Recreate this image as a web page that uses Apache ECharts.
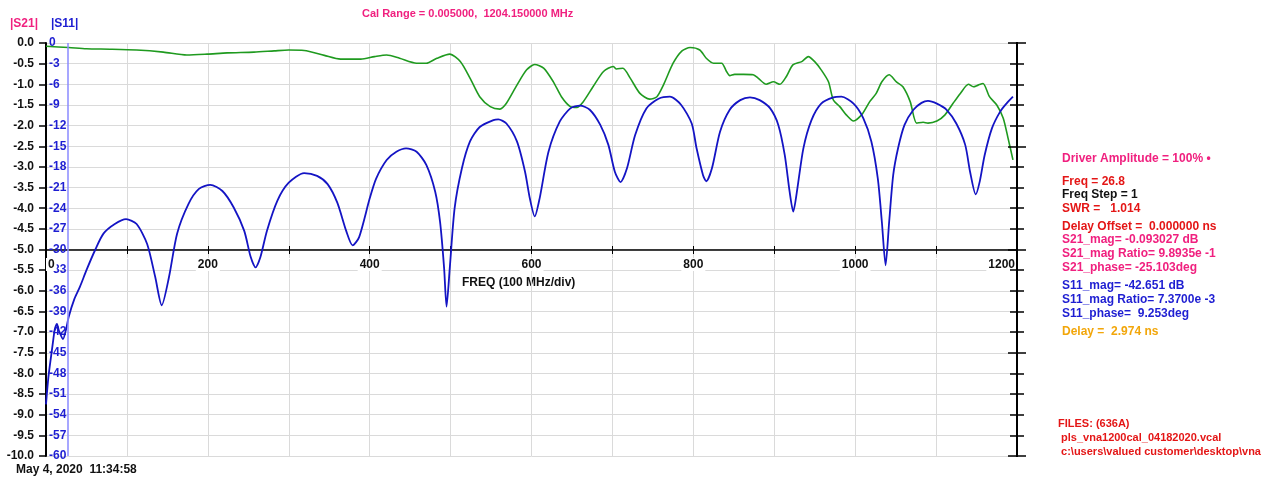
<!DOCTYPE html>
<html>
<head>
<meta charset="utf-8">
<script src="https://cdn.jsdelivr.net/npm/echarts@6/dist/echarts.min.js"></script>
<style>
html,body{margin:0;padding:0;background:#fff;}
#chart{width:1266px;height:481px;}
</style>
</head>
<body>
<div id="chart"></div>
<script>
// ---- data ----
const freqS21 = [0,28,50,79,112,145,174,199,224,257,282,300,319,344,364,389,406,421,437,458,470,483,499,512,524,536,549,561,569,582,594,604,615,627,637,648,656,664,676,689,701,705,713,722,734,746,755,763,775,786,796,808,816,825,835,841,845,851,862,874,880,890,899,907,915,923,934,942,950,958,967,973,981,989,998,1008,1018,1026,1033,1042,1051,1059,1068,1076,1084,1090,1101,1111,1121,1130,1140,1146,1152,1158,1166,1175,1183,1189,1195];
const s21Mag = [-0.08,-0.11,-0.14,-0.15,-0.17,-0.22,-0.29,-0.27,-0.24,-0.22,-0.19,-0.17,-0.18,-0.30,-0.39,-0.39,-0.33,-0.29,-0.37,-0.49,-0.49,-0.37,-0.27,-0.45,-0.85,-1.30,-1.54,-1.60,-1.46,-1.02,-0.65,-0.52,-0.61,-0.94,-1.30,-1.54,-1.56,-1.42,-1.06,-0.69,-0.57,-0.63,-0.61,-0.85,-1.22,-1.36,-1.30,-1.02,-0.49,-0.19,-0.11,-0.17,-0.37,-0.49,-0.49,-0.69,-0.79,-0.76,-0.76,-0.77,-0.85,-1.00,-0.94,-1.00,-0.81,-0.53,-0.45,-0.33,-0.45,-0.65,-0.94,-1.38,-1.54,-1.74,-1.89,-1.74,-1.42,-1.22,-0.94,-0.77,-0.94,-1.06,-1.42,-1.94,-1.92,-1.94,-1.89,-1.74,-1.46,-1.22,-1.00,-1.06,-1.02,-0.98,-1.30,-1.50,-1.82,-2.31,-2.83];

const freqS11 = [0,3,8,11,13.5,16,21,25,28,35,42,50,61,71,85,99,112,125,135,143,152,162,176,189,203,218,232,245,253,259,265,273,286,300,319,335,348,360,371,379,387,400,408,421,433,445,458,470,481,487,492,495,499,505,514,524,536,553,559,569,582,592,598,604,610,621,635,648,660,672,685,695,703,710,718,728,742,757,771,785,798,804,812,816,823,833,845,858,870,882,895,905,913,919,923.5,928,936,946,958,973,983,998,1010,1020,1028,1033,1037.6,1042,1047,1053,1061,1072,1082,1090,1101,1113,1125,1136,1142,1149,1154,1160,1169,1179,1187,1195];
const s11Mag = [-52.5,-48.5,-44,-41.5,-40.8,-41.8,-43,-41.5,-39.8,-37.2,-35.4,-33,-30,-27.7,-26.3,-25.6,-26.3,-29.2,-34,-38.1,-34,-27.7,-23.4,-21.2,-20.6,-21.5,-23.9,-27.3,-31.1,-32.6,-31.1,-27.3,-22.9,-20.3,-18.9,-19.3,-20.5,-23.2,-27.3,-29.4,-28.2,-22.6,-19.7,-17.0,-15.8,-15.3,-15.8,-17.7,-21.6,-26,-32.7,-38.3,-32.7,-24,-18.2,-14.3,-12.2,-11.2,-11.1,-11.7,-14.3,-18.7,-22.6,-25.2,-22.6,-15.8,-11.4,-9.5,-9.1,-9.7,-11.9,-14.8,-18.7,-20.2,-18.2,-13.4,-9.5,-8.1,-7.8,-9.0,-11.7,-15.3,-19.2,-20.1,-18.2,-12.9,-9.7,-8.3,-7.9,-8.3,-9.5,-11.9,-16.3,-21.6,-24.5,-21.6,-15.3,-11.2,-8.8,-7.9,-7.8,-8.8,-10.9,-14.3,-19.7,-26,-32.3,-26,-19.2,-15.3,-11.9,-9.7,-8.7,-8.4,-8.8,-9.7,-11.7,-14.8,-18.7,-22.0,-20.1,-16.3,-12.4,-10,-8.8,-7.8];

const cursorFreq = 26.8;
const xLabelStep = 200;

const titleText = 'Cal Range = 0.005000,  1204.150000 MHz';
const dateText = 'May 4, 2020  11:34:58';
const panelLines = [
  ['Driver Amplitude = 100% \u2022', 'pink'],
  ['Freq = 26.8', 'red'],
  ['Freq Step = 1', 'black'],
  ['SWR =   1.014', 'red'],
  ['Delay Offset =  0.000000 ns', 'red'],
  ['S21_mag= -0.093027 dB', 'pink'],
  ['S21_mag Ratio= 9.8935e -1', 'pink'],
  ['S21_phase= -25.103deg', 'pink'],
  ['S11_mag= -42.651 dB', 'blue'],
  ['S11_mag Ratio= 7.3700e -3', 'blue'],
  ['S11_phase=  9.253deg', 'blue'],
  ['Delay =  2.974 ns', 'orange']
];
const fileLines = ['FILES: (636A)', ' pls_vna1200cal_04182020.vcal', ' c:\\users\\valued customer\\desktop\\vna'];

// ---- styling ----
const COL = {pink:'#f0207f', red:'#e41616', black:'#111111', blue:'#1e1ed2', orange:'#f2a60a'};
const panelY = [160,183,196,210,228,241,255,269,287,301,315,333];
const fileY = [425,439,453];
const FONT = 'bold 12px "Liberation Sans", Arial, sans-serif';
const MID_OFFSET = -206;

const chart = echarts.init(document.getElementById('chart'), null, {renderer:'canvas'});

const graphics = [];
graphics.push({type:'text', left:362, top:8, style:{text:titleText, fill:COL.pink, font:'bold 11px "Liberation Sans", Arial, sans-serif'}});
graphics.push({type:'text', left:10, top:18, style:{text:'|S21|', fill:COL.pink, font:FONT}});
graphics.push({type:'text', left:51, top:18, style:{text:'|S11|', fill:COL.blue, font:FONT}});
graphics.push({type:'text', left:16, top:464, style:{text:dateText, fill:COL.black, font:FONT}});
graphics.push({type:'text', left:462, top:277, style:{text:'FREQ (100 MHz/div)', fill:COL.black, font:FONT}});
panelLines.forEach((p,i)=>{
  graphics.push({type:'text', left:1062, top:panelY[i]-7, style:{text:p[0], fill:COL[p[1]], font:FONT}});
});
fileLines.forEach((t,i)=>{
  graphics.push({type:'text', left:1058, top:fileY[i]-7, style:{text:t, fill:COL.red, font:'bold 11px "Liberation Sans", Arial, sans-serif'}});
});

const gridGray = '#dadada';
function rightAxis(interval, inside, len){
  return {type:'value', position:'right', min:-10, max:0, interval:interval, z:5,
    axisLine:{show:true, onZero:false, lineStyle:{color:'#000', width:2}},
    axisTick:{show:true, inside:inside, length:len, lineStyle:{color:'#000', width:1.5}},
    axisLabel:{show:false}, splitLine:{show:false}};
}

const option = {
  backgroundColor:'#fff',
  animation:false,
  grid:{left:46, right:249, top:43, bottom:25, containLabel:false},
  xAxis:[
    {type:'value', min:0, max:1200, interval:100, position:'bottom', offset:MID_OFFSET,
     axisLine:{show:true, onZero:false, lineStyle:{color:'#000', width:1.5}},
     axisTick:{show:true, length:4, lineStyle:{color:'#000', width:1}},
     axisLabel:{show:true, margin:8, color:'#111', fontSize:12, fontWeight:'bold', fontFamily:'"Liberation Sans", Arial, sans-serif',
       formatter:v=> (v % xLabelStep === 0 ? String(v) : ''), alignMinLabel:'left', alignMaxLabel:'right',
       backgroundColor:'#fff', padding:[1,2,0,2]},
     splitLine:{show:true, lineStyle:{color:gridGray, width:1}}},
    {type:'value', min:0, max:1200, interval:100, position:'bottom', offset:MID_OFFSET,
     axisLine:{show:false, onZero:false},
     axisTick:{show:true, inside:true, length:4, lineStyle:{color:'#000', width:1}},
     axisLabel:{show:false}, splitLine:{show:false}}
  ],
  yAxis:[
    {type:'value', position:'left', min:-10, max:0, interval:0.5,
     axisLine:{show:true, onZero:false, lineStyle:{color:'#000', width:2}},
     axisTick:{show:true, length:7, lineStyle:{color:'#000', width:1.5}},
     axisLabel:{show:true, margin:12, color:'#111', fontSize:12, fontWeight:'bold', fontFamily:'"Liberation Sans", Arial, sans-serif',
       formatter:v=>v.toFixed(1)},
     splitLine:{show:true, lineStyle:{color:gridGray, width:1}}},
    {type:'value', position:'left', min:-60, max:0, interval:3,
     axisLine:{show:false, onZero:false}, axisTick:{show:false},
     axisLabel:{show:true, inside:true, margin:3, color:COL.blue, fontSize:12, fontWeight:'bold', fontFamily:'"Liberation Sans", Arial, sans-serif'},
     splitLine:{show:false}},
    rightAxis(0.5, false, 7),
    rightAxis(0.5, true, 7),
    rightAxis(2.5, false, 9),
    rightAxis(2.5, true, 9)
  ],
  series:[
    {type:'line', name:'S21', xAxisIndex:0, yAxisIndex:0, showSymbol:false, smooth:0.25,
     lineStyle:{color:'#1f9a1f', width:1.6}, z:3,
     data:freqS21.map((f,i)=>[f, s21Mag[i]])},
    {type:'line', name:'S11', xAxisIndex:0, yAxisIndex:1, showSymbol:false, smooth:0.25,
     lineStyle:{color:'#1414c4', width:1.8}, z:4,
     data:freqS11.map((f,i)=>[f, s11Mag[i]]),
     markLine:{silent:true, symbol:['none','none'], label:{show:false},
       lineStyle:{color:'#8a8aff', width:1.5, type:'solid'},
       data:[{xAxis:cursorFreq}]}}
  ],
  graphic:graphics
};
chart.setOption(option);
</script>
</body>
</html>
